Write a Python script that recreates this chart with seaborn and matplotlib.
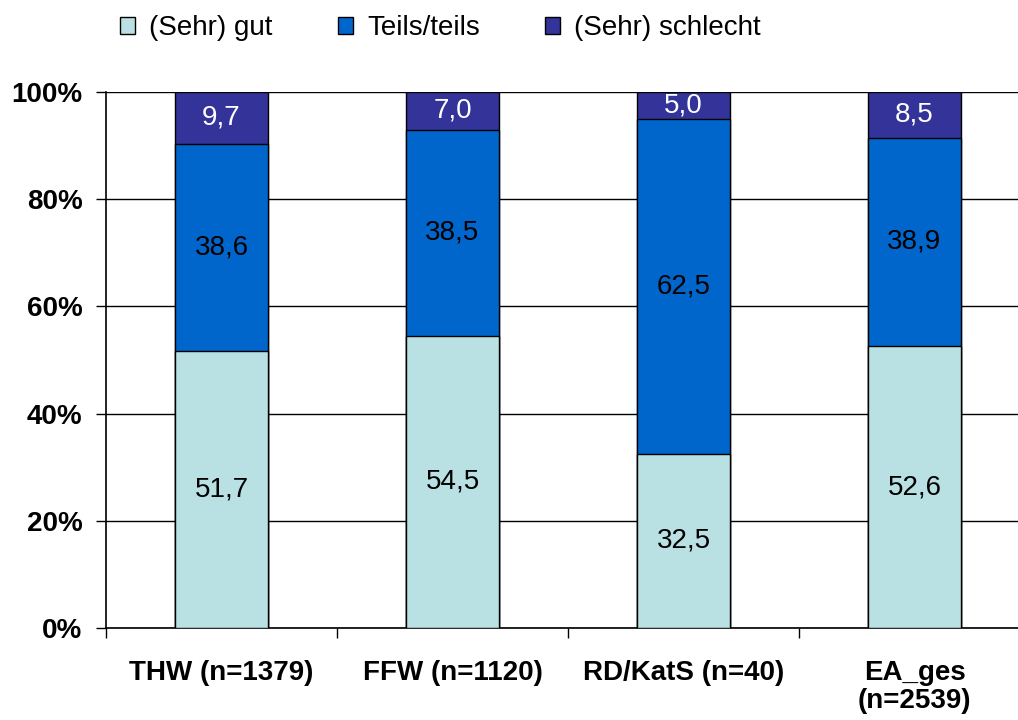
import matplotlib
matplotlib.use("Agg")
import matplotlib.pyplot as plt
import seaborn as sns
import numpy as np
import pandas as pd
from matplotlib.patches import Patch

categories = ["THW (n=1379)", "FFW (n=1120)", "RD/KatS (n=40)", "EA_ges\n(n=2539)"]
gut = [51.7, 54.5, 32.5, 52.6]
teils = [38.6, 38.5, 62.5, 38.9]
schlecht = [9.7, 7.0, 5.0, 8.5]
series_names = ["(Sehr) gut", "Teils/teils", "(Sehr) schlecht"]
colors = ["#B9E1E3", "#0066CC", "#333399"]
ytick_vals = [0, 20, 40, 60, 80, 100]

sns.set_theme(style="white")
plt.rcParams["font.family"] = ["Liberation Sans", "DejaVu Sans"]
plt.rcParams["text.color"] = "black"
plt.rcParams["xtick.color"] = "black"
plt.rcParams["ytick.color"] = "black"

fig = plt.figure(figsize=(10.18, 7.2), dpi=100)
ax = fig.add_axes([106/1018, 92/720, 924/1018, 536/720])

g = np.array(gut); t = np.array(teils); s = np.array(schlecht)
cum1 = g
cum2 = g + t
cum3 = g + t + s
df = pd.DataFrame({"cat": categories, "c1": cum1, "c2": cum2, "c3": cum3})

for col, color in zip(["c3", "c2", "c1"], colors[::-1]):
    sns.barplot(data=df, x="cat", y=col, color=color, width=0.40,
                edgecolor="black", linewidth=1.0, saturation=1, ax=ax, zorder=3)

# value labels
for i in range(len(categories)):
    segs = [(0, g[i], g[i], "black"), (g[i], g[i] + t[i], t[i], "black"),
            (g[i] + t[i], cum3[i], s[i], "white")]
    for lo, hi, v, c in segs:
        ax.text(i, (lo + hi) / 2, f"{v:.1f}".replace(".", ","), ha="center", va="center",
                fontsize=20, color=c, zorder=5)

ax.set_xlim(-0.5, len(categories) - 0.5)
ax.set_ylim(0, 100)
ax.set_yticks(ytick_vals)
ax.set_yticklabels([f"{v}%" for v in ytick_vals], fontsize=20, fontweight="bold", color="black")
ax.yaxis.grid(True, color="black", linewidth=1.0, zorder=0)
ax.set_axisbelow(True)
ax.tick_params(axis="y", direction="out", length=7, width=1, color="black", pad=10, left=True)

ax.set_xticks(range(len(categories)))
ax.set_xticklabels(categories, fontsize=20, fontweight="bold", color="black")
for lbl in ax.get_xticklabels():
    lbl.set_linespacing(1.12)
ax.tick_params(axis="x", which="major", length=0, pad=23)
ax.set_xticks(np.arange(-0.5, len(categories) - 0.5, 1.0), minor=True)
ax.tick_params(axis="x", which="minor", direction="out", length=7, width=1, color="black", bottom=True)
ax.set_xlabel("")
ax.set_ylabel("")

for side in ["top", "right"]:
    ax.spines[side].set_visible(False)
for side in ["left", "bottom"]:
    ax.spines[side].set_visible(True)
    ax.spines[side].set_color("black")
    ax.spines[side].set_linewidth(1.2)

handles = [Patch(facecolor=c, edgecolor="black", linewidth=1) for c in colors]
leg = fig.legend(handles, series_names, loc="center left", bbox_to_anchor=(120/1018, 1 - 28/720),
                 ncol=3, frameon=False, fontsize=20, handlelength=0.55, handleheight=0.55,
                 handletextpad=0.5, columnspacing=2.35, borderaxespad=0, borderpad=0)
for txt in leg.get_texts():
    txt.set_color("black")

fig.savefig("out.png", dpi=100)
